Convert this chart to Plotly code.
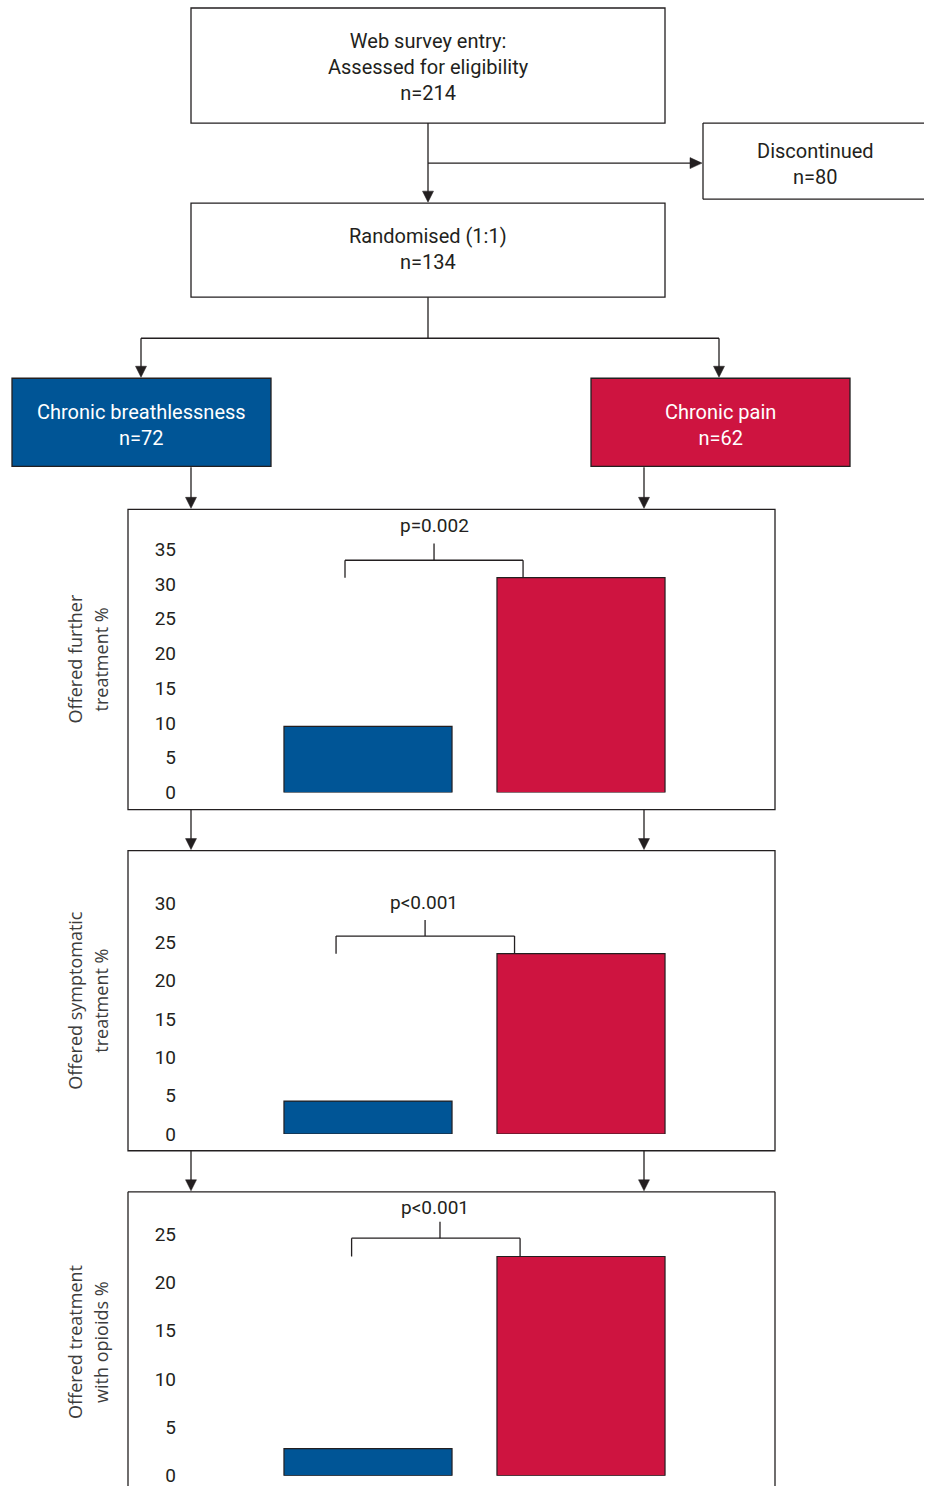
import plotly.graph_objects as go

W, H = 925, 1486          # reference canvas (all positions below are given on this canvas)
FIG_H = 1499              # rendered height; layout positions are paper-relative
INK = "#231f20"
BLUE = "#005596"
RED = "#ce1440"
FLOW_FONT = "Roboto"
TITLE_FONT = "Open Sans"

# ---------------- data ----------------
groups = ["Chronic breathlessness", "Chronic pain"]
group_n = [72, 62]
assessed_n = 214
discontinued_n = 80
randomised_n = 134

further_pct = [9.5, 30.9]
symptomatic_pct = [4.3, 23.5]
opioid_pct = [2.8, 22.7]

p_values = ["p=0.002", "p<0.001", "p<0.001"]
y_ticks_1 = [0, 5, 10, 15, 20, 25, 30, 35]
y_ticks_2 = [0, 5, 10, 15, 20, 25, 30]
y_ticks_3 = [0, 5, 10, 15, 20, 25]
panel_titles = [("Offered further", "treatment %"),
                ("Offered symptomatic", "treatment %"),
                ("Offered treatment", "with opioids %")]


def X(px):
    return px / W


def Y(py):
    return 1 - py / H


fig = go.Figure()
shapes = []
annotations = []

LW = 1.3


def rect(x0, y0, x1, y1, fill="rgba(0,0,0,0)"):
    shapes.append(dict(type="rect", xref="paper", yref="paper",
                       x0=X(x0), x1=X(x1), y0=Y(y1), y1=Y(y0),
                       line=dict(color=INK, width=LW), fillcolor=fill, layer="below"))


def line(x0, y0, x1, y1):
    shapes.append(dict(type="line", xref="paper", yref="paper",
                       x0=X(x0), x1=X(x1), y0=Y(y0), y1=Y(y1),
                       line=dict(color=INK, width=LW)))


def head_down(x, y, w=11, h=11):
    p = f"M {X(x - w / 2)},{Y(y - h)} L {X(x + w / 2)},{Y(y - h)} L {X(x)},{Y(y)} Z"
    shapes.append(dict(type="path", xref="paper", yref="paper", path=p,
                       fillcolor=INK, line=dict(color=INK, width=0.5)))


def head_right(x, y, w=11, h=12):
    p = f"M {X(x - h)},{Y(y - w / 2)} L {X(x - h)},{Y(y + w / 2)} L {X(x)},{Y(y)} Z"
    shapes.append(dict(type="path", xref="paper", yref="paper", path=p,
                       fillcolor=INK, line=dict(color=INK, width=0.5)))


def arrow_down(x, y0, y1):
    line(x, y0, x, y1 - 10)
    head_down(x, y1)


def text(x, y, s, color=INK, size=20, font=FLOW_FONT, angle=0):
    annotations.append(dict(xref="paper", yref="paper", x=X(x), y=Y(y), text=s,
                            showarrow=False, xanchor="center", yanchor="middle",
                            textangle=angle, font=dict(family=font, size=size, color=color)))


# ---------------- flow chart ----------------
rect(191, 8, 665, 123)
text(428, 67, f"Web survey entry:<br>Assessed for eligibility<br>n={assessed_n}")

line(428, 123, 428, 192)
head_down(428, 202)
line(428, 163, 692, 163)
head_right(702, 163)

# "Discontinued" box is cut by the right edge of the page
line(703, 123, 924, 123)
line(703, 199, 924, 199)
line(703, 123, 703, 199)
text(815, 164, f"Discontinued<br>n={discontinued_n}")

rect(191, 203, 665, 297)
text(428, 249, f"Randomised (1:1)<br>n={randomised_n}")

line(428, 297, 428, 338)
line(141, 338, 719, 338)
arrow_down(141, 338, 377)
arrow_down(719, 338, 377)

rect(12, 378, 271, 466, fill=BLUE)
rect(591, 378, 850, 466, fill=RED)
text(141, 425, f"{groups[0]}<br>n={group_n[0]}", color="white")
text(720, 425, f"{groups[1]}<br>n={group_n[1]}", color="white")

arrow_down(191, 467, 508)
arrow_down(644, 467, 508)

# ---------------- bar panels ----------------
panels = [
    dict(values=further_pct, ticks=y_ticks_1, box=(128, 509, 775, 809),
         base=792.0, top=510.0, ppu=6.95,
         bx=(-0.108, 0.31, 0.728), by=(33.4, 35.8), ptext=(0.31, 38.4)),
    dict(values=symptomatic_pct, ticks=y_ticks_2, box=(128, 850, 775, 1150),
         base=1133.3, top=851.0, ppu=7.67,
         bx=(-0.150, 0.268, 0.688), by=(25.8, 27.9), ptext=(0.265, 30.2)),
    dict(values=opioid_pct, ticks=y_ticks_3, box=(128, 1191, 775, None),
         base=1474.7, top=1192.0, ppu=9.65,
         bx=(-0.077, 0.338, 0.714), by=(24.6, 26.3), ptext=(0.315, 27.8)),
]

X_LEFT_PX = 177.0
SLOT = 213.0
CENTER0 = 368.0
x_right_px = CENTER0 + 1.5 * SLOT
x_range = [-0.5 - (CENTER0 - 0.5 * SLOT - X_LEFT_PX) / SLOT, 1.5]

layout_axes = {}
for i, pnl in enumerate(panels):
    k = "" if i == 0 else str(i + 1)
    xa, ya = "x" + k, "y" + k
    fig.add_trace(go.Bar(x=groups, y=pnl["values"], xaxis=xa, yaxis=ya,
                         marker=dict(color=[BLUE, RED], line=dict(color=INK, width=1.2)),
                         showlegend=False, hoverinfo="x+y"))
    ymax = (pnl["base"] - pnl["top"]) / pnl["ppu"]
    layout_axes["xaxis" + k] = dict(domain=[X(X_LEFT_PX), X(x_right_px)], range=x_range,
                                    anchor=ya, showticklabels=False, showgrid=False,
                                    zeroline=False, showline=False, ticks="",
                                    type="category", fixedrange=True)
    layout_axes["yaxis" + k] = dict(domain=[Y(pnl["base"]), Y(pnl["top"])], range=[0, ymax],
                                    anchor=xa, tickvals=pnl["ticks"], showgrid=False,
                                    zeroline=False, showline=False, ticks="",
                                    tickfont=dict(family=FLOW_FONT, size=19, color=INK),
                                    fixedrange=True)
    # panel frame
    x0, y0, x1, y1 = pnl["box"]
    if y1 is None:
        # last frame runs off the bottom of the page
        line(x0, y0, x1, y0)
        line(x0, y0, x0, H)
        line(x1, y0, x1, H)
        y1c = 1491
    else:
        rect(x0, y0, x1, y1)
        y1c = y1
    # significance bracket in data coordinates
    lx, cx, rx = pnl["bx"]
    hy, ty = pnl["by"]
    red_top = pnl["values"][1]
    for (a, b, c, d) in [(lx, red_top, lx, hy), (lx, hy, rx, hy), (rx, hy, rx, red_top), (cx, hy, cx, ty)]:
        shapes.append(dict(type="line", xref=xa, yref=ya, x0=a, y0=b, x1=c, y1=d,
                           line=dict(color=INK, width=LW)))
    annotations.append(dict(xref=xa, yref=ya, x=pnl["ptext"][0], y=pnl["ptext"][1],
                            text=p_values[i], showarrow=False, xanchor="center", yanchor="middle",
                            font=dict(family=FLOW_FONT, size=19, color=INK)))
    # y-axis title (two lines)
    cy = (y0 + y1c) / 2
    text(75, cy, panel_titles[i][0], color="#3c3c3c", size=18, font=TITLE_FONT, angle=-90)
    text(101, cy, panel_titles[i][1], color="#3c3c3c", size=18, font=TITLE_FONT, angle=-90)

arrow_down(191, 809, 849)
arrow_down(644, 809, 849)
arrow_down(191, 1150, 1190)
arrow_down(644, 1150, 1190)

fig.update_layout(
    width=W, height=FIG_H, autosize=False,
    margin=dict(l=0, r=0, t=0, b=0, pad=0),
    paper_bgcolor="white", plot_bgcolor="rgba(0,0,0,0)",
    bargap=0.211,
    shapes=shapes, annotations=annotations,
    **layout_axes,
)

post = (
    "var de=document.documentElement, b=document.body;"
    "de.style.margin='0'; de.style.padding='0'; de.style.overflow='hidden';"
    "b.style.margin='0'; b.style.padding='0'; b.style.overflow='hidden';"
    "window.scrollTo(0,0);"
)
fig.write_html("out.html", config={"displayModeBar": False}, post_script=post)
